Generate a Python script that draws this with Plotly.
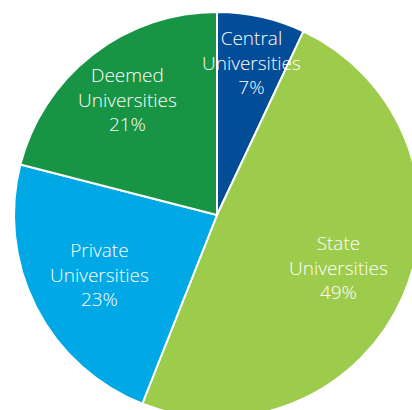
import math
import plotly.graph_objects as go

# Data
categories = ["Central", "State", "Private", "Deemed"]
values = [7, 49, 23, 21]
label_lines = ["Central<br>Universities", "State<br>Universities",
               "Private<br>Universities", "Deemed<br>Universities"]

# Styles
colors = ["#024C98", "#9DCB4B", "#00A9E5", "#189445"]
label_radius = [0.77, 0.65, 0.65, 0.72]  # fraction of pie radius for text placement

fig = go.Figure(go.Pie(
    labels=categories,
    values=values,
    sort=False,
    direction="clockwise",
    rotation=0,
    marker=dict(colors=colors, line=dict(color="white", width=2)),
    textinfo="none",
    hoverinfo="label+percent",
    showlegend=False,
    domain=dict(x=[0, 1], y=[0, 1]),
))

total = sum(values)
cum = 0
annotations = []
for lbl, v, rf in zip(label_lines, values, label_radius):
    mid = (cum + v / 2) / total * 2 * math.pi
    cum += v
    x = 0.5 + rf * 0.5 * math.sin(mid)
    y = 0.5 + rf * 0.5 * math.cos(mid)
    pct = round(v / total * 100)
    annotations.append(dict(
        x=x, y=y, xref="paper", yref="paper",
        text=f"{lbl}<br>{pct}%", showarrow=False,
        font=dict(family="Open Sans, Noto Sans, sans-serif", size=19, color="white", weight=300),
        align="center", xanchor="center", yanchor="middle",
    ))

fig.update_layout(
    width=420, height=418,
    margin=dict(l=14, t=12, r=0, b=0),
    paper_bgcolor="white",
    plot_bgcolor="white",
    annotations=annotations,
)

fig.write_html("out.html",
               post_script="document.body.style.overflow='hidden';document.body.style.margin='0';")
